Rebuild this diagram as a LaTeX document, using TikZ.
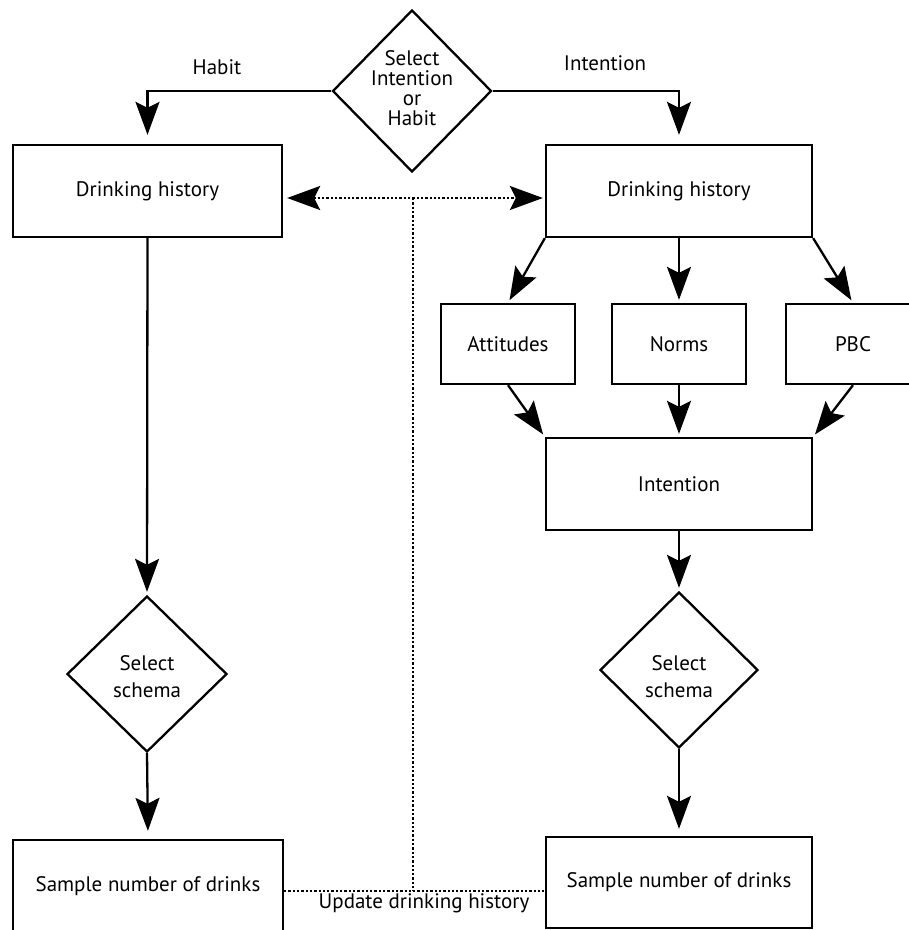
\documentclass[tikz,border=0pt]{standalone}
\usepackage{fontspec}
\setmainfont{PT Sans}
\usetikzlibrary{shapes.geometric,arrows.meta,calc}
\begin{document}
\begin{tikzpicture}[x=1pt,y=-1pt,
  txt/.style={font=\fontsize{21}{27}\selectfont},
  box/.style={draw, line width=2.3pt, inner sep=0pt, txt},
  dia/.style={draw, diamond, line width=2.3pt, inner sep=0pt},
  diatxt/.style={txt, align=center, inner sep=0pt},
  tip/.tip={Stealth[length=33pt,width=24pt,inset=6pt]},
  arr/.style={line width=2.3pt, -tip, shorten >=3pt},
  dotline/.style={line width=2.3pt, dash pattern=on 2.3pt off 2pt}]
\useasboundingbox (0,0) rectangle (909,930);
\node[dia, minimum width=159pt, minimum height=162pt] (d0) at (412,91) {};
\node[diatxt, font=\fontsize{21}{20}\selectfont] (d0t) at (412,88) {Select\\Intention\\or\\Habit};
\node[box, minimum width=269pt, minimum height=92pt] (dhL) at (147.5,191) {Drinking history};
\node[box, minimum width=266pt, minimum height=92pt] (dhR) at (679,191) {Drinking history};
\node[box, minimum width=134pt, minimum height=80pt] (att) at (508,344) {Attitudes};
\node[box, minimum width=134pt, minimum height=80pt] (nor) at (679,344) {Norms};
\node[box, minimum width=134pt, minimum height=80pt] (pbc) at (853,344) {PBC};
\node[box, minimum width=266pt, minimum height=92pt] (int) at (679,484) {Intention};
\node[dia, minimum width=158pt, minimum height=156pt] (dR) at (679,670) {};
\node[diatxt] (dRt) at (679,677) {Select\\schema};
\node[dia, minimum width=160pt, minimum height=156pt] (dL) at (147,674) {};
\node[diatxt] (dLt) at (147,677) {Select\\schema};
\node[box, minimum width=270pt, minimum height=92pt] (sL) at (148,886) {Sample number of drinks};
\node[box, minimum width=266pt, minimum height=91pt] (sR) at (679,882.5) {Sample number of drinks};
\node[txt] (lh) at (217,67) {Habit};
\node[txt] (li) at (605,63) {Intention};
\node[txt] (lu) at (424,903) {Update drinking history};
% arrows
\draw[arr, shorten >=9pt] (d0.west) -| (dhL.north);
\draw[arr, shorten >=9pt] (d0.east) -| (dhR.north);
\draw[arr] (dhR.south west) -- (att.north);
\draw[arr] (dhR.south) -- (nor.north);
\draw[arr] (dhR.south east) -- (pbc.north);
\draw[arr] (att.south) -- (int.north west);
\draw[arr] (nor.south) -- (int.north);
\draw[arr] (pbc.south) -- (int.north east);
\draw[arr] (int.south) -- (dR.north);
\draw[arr] (dhL.south) -- (dL.north);
\draw[arr, shorten >=8pt] (dL.south) -- (sL.north);
\draw[arr, shorten >=7pt] (dR.south) -- (sR.north);
% dotted
\coordinate (mt) at (413,198);
\coordinate (mb) at (413,891);
\draw[dotline, tip-tip, shorten <=4pt, shorten >=2pt] (dhL.east |- mt) -- (dhR.west |- mt);
\draw[dotline] (mt) -- (mb);
\draw[dotline] (sL.east |- mb) -- (sR.west |- mb);
\end{tikzpicture}
\end{document}
